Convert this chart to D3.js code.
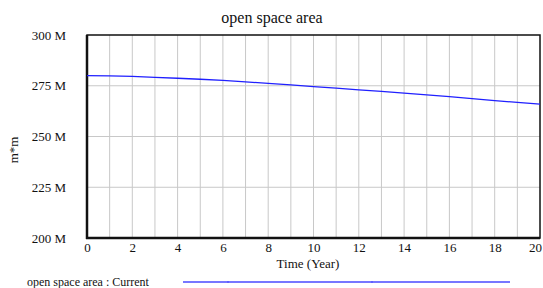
<!DOCTYPE html>
<html><head><meta charset="utf-8">
<script src="https://cdn.jsdelivr.net/npm/d3@7"></script>
<style>body{margin:0;background:#fff;} svg text{font-family:'Liberation Serif','Times New Roman',Times,serif !important;fill:#111;}</style>
</head><body><svg id="c" width="543" height="288" font-family="Liberation Serif"></svg>
<script>
const years = [0,1,2,3,4,5,6,7,8,9,10,11,12,13,14,15,16,17,18,19,20];
const openSpace = [280.0,279.9,279.6,279.1,278.7,278.2,277.6,276.9,276.2,275.4,274.6,273.8,273.0,272.2,271.4,270.5,269.6,268.7,267.7,266.8,265.9];
const xTicks = [0,2,4,6,8,10,12,14,16,18,20];
const yTicks = [200,225,250,275,300];
const title = "open space area";
const xLabel = "Time (Year)";
const yLabel = "m*m";
const legendLabel = "open space area : Current";

const svg = d3.select("#c");
const L=87, R=540, T=35, B=238;
const x = d3.scaleLinear().domain([0,20]).range([L,R]);
const y = d3.scaleLinear().domain([200,300]).range([B,T]);

// grid
svg.append("g").selectAll("line").data(d3.range(1,20)).join("line")
  .attr("x1",d=>x(d)).attr("x2",d=>x(d)).attr("y1",T).attr("y2",B)
  .attr("stroke","#c8c8c8").attr("stroke-width",1);
svg.append("g").selectAll("line").data([225,250,275]).join("line")
  .attr("x1",L).attr("x2",R).attr("y1",d=>y(d)).attr("y2",d=>y(d))
  .attr("stroke","#c8c8c8").attr("stroke-width",1);

// frame
svg.append("rect").attr("x",L).attr("y",T).attr("width",R-L).attr("height",B-T)
  .attr("fill","none").attr("stroke","#111").attr("stroke-width",1.5);
svg.append("line").attr("x1",L).attr("x2",L).attr("y1",T).attr("y2",B+1).attr("stroke","#111").attr("stroke-width",2.5);
svg.append("line").attr("x1",L-1).attr("x2",R).attr("y1",B).attr("y2",B).attr("stroke","#111").attr("stroke-width",2.5);

// axes labels
const xAxis = d3.axisBottom(x).tickValues(xTicks).tickSize(0).tickPadding(5).tickFormat(d3.format("d"));
const gx = svg.append("g").attr("transform",`translate(0,${B})`).call(xAxis);
gx.attr("font-family",null).attr("font-size",null);
gx.select(".domain").remove();
gx.selectAll("text").attr("font-size","13px").attr("fill","#111");
gx.selectAll(".tick").filter(d=>d===20).select("text").attr("dx","-5");

const yAxis = d3.axisLeft(y).tickValues(yTicks).tickSize(0).tickPadding(21).tickFormat(d=>d+" M");
const gy = svg.append("g").attr("transform",`translate(${L},0)`).call(yAxis);
gy.attr("font-family",null).attr("font-size",null);
gy.select(".domain").remove();
gy.selectAll("text").attr("font-size","13px").attr("fill","#111");

svg.append("text").attr("x",272).attr("y",23).attr("text-anchor","middle").attr("font-size","16px").text(title);
svg.append("text").attr("x",308).attr("y",268).attr("text-anchor","middle").attr("font-size","13px").text(xLabel);
svg.append("text").attr("transform","translate(18,150) rotate(-90)").attr("text-anchor","middle").attr("font-size","13px").text(yLabel);

// data line
const line = d3.line().x((d,i)=>x(years[i])).y(d=>y(d));
svg.append("path").datum(openSpace).attr("d",line).attr("fill","none").attr("stroke","#2020ff").attr("stroke-width",1.3);

// legend
svg.append("text").attr("x",27).attr("y",286).attr("font-size","12px").text(legendLabel);
svg.append("line").attr("x1",183).attr("x2",510).attr("y1",282).attr("y2",282).attr("stroke","#4a4aff").attr("stroke-width",1.3);
svg.append("g").selectAll("line").data([228,372]).join("line")
  .attr("x1",d=>d).attr("x2",d=>d).attr("y1",281).attr("y2",283).attr("stroke","#4a4aff");
</script></body></html>
